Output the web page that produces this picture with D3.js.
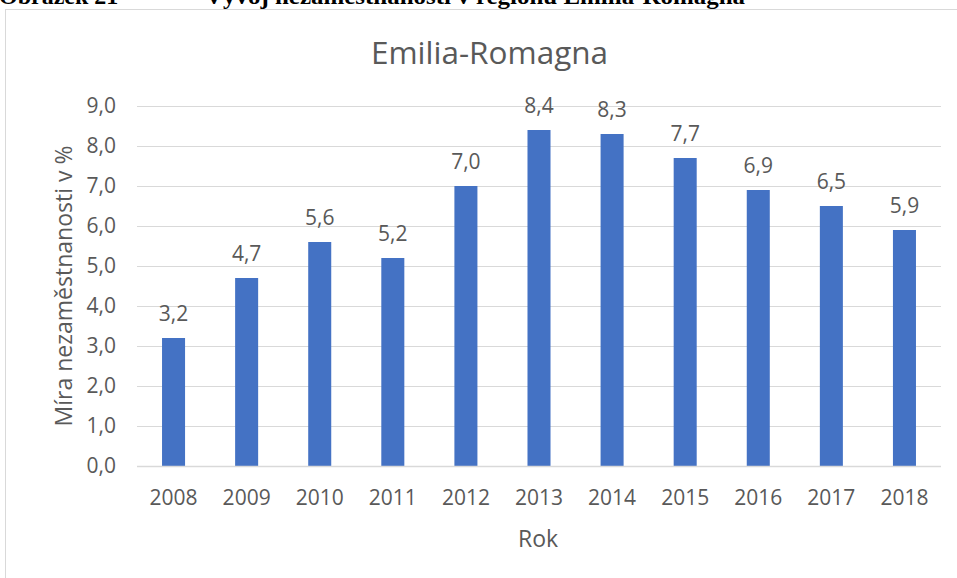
<!DOCTYPE html>
<html><head><meta charset="utf-8">
<script src="https://cdn.jsdelivr.net/npm/d3@7"></script>
<style>
html,body{margin:0;padding:0;background:#fff;}
svg{display:block;}
</style></head>
<body>
<svg id="chart" width="957" height="578"></svg>
<script>
const years = ["2008","2009","2010","2011","2012","2013","2014","2015","2016","2017","2018"];
const values = [3.2,4.7,5.6,5.2,7.0,8.4,8.3,7.7,6.9,6.5,5.9];
const yTicks = [0,1,2,3,4,5,6,7,8,9];
const chartTitle = "Emilia-Romagna";
const yTitle = "Míra nezaměstnanosti v %";
const xTitle = "Rok";
const captionNum = "Obrázek 21";
const captionText = "Vývoj nezaměstnanosti v regionu Emilia-Romagna";

(function(){
const svg = d3.select("#chart");
const font = "'Open Sans', sans-serif";
const grey = "#595959";
const fmt = v => d3.format(".1f")(v).replace(".", ",");

// caption (cut off at top, as in the source page)
const capFont = "'Liberation Serif', 'Times New Roman', serif";
svg.append("text").attr("x", -1).attr("y", 4)
  .attr("font-family", capFont).attr("font-size", 24).attr("font-weight", "bold")
  .attr("fill", "#000").text(captionNum);
svg.append("text").attr("x", 205).attr("y", 4)
  .attr("font-family", capFont).attr("font-size", 24).attr("font-weight", "bold")
  .attr("textLength", 540).attr("lengthAdjust", "spacingAndGlyphs")
  .attr("fill", "#000").text(captionText);

// chart frame
svg.append("rect").attr("x", 5.5).attr("y", 9.5).attr("width", 1000).attr("height", 600)
  .attr("fill", "#fff").attr("stroke", "#d9d9d9").attr("stroke-width", 1);

const pl = 137, pr = 941, pt = 106, pb = 466;
const x = d3.scaleBand().domain(years).range([pl, pr]).paddingInner(0.685).paddingOuter(0.3425);
const y = d3.scaleLinear().domain([0, 9]).range([pb, pt]);

// gridlines
svg.append("g").selectAll("line").data(yTicks).join("line")
  .attr("x1", pl).attr("x2", pr)
  .attr("y1", d => y(d) + 0.5).attr("y2", d => y(d) + 0.5)
  .attr("stroke", "#d9d9d9").attr("stroke-width", 1);

// y axis labels
const yAxis = d3.axisLeft(y).tickValues(yTicks).tickFormat(fmt).tickSize(0).tickPadding(0);
const gy = svg.append("g").attr("transform", `translate(116,0)`).call(yAxis);
gy.select(".domain").remove();
gy.selectAll("text").attr("font-family", font).attr("font-size", 21).attr("fill", grey);

// bars
svg.append("g").selectAll("rect").data(values).join("rect")
  .attr("x", (d, i) => x(years[i])).attr("width", x.bandwidth())
  .attr("y", d => y(d)).attr("height", d => y(0) - y(d))
  .attr("fill", "#4472c4");

// baseline
svg.append("line").attr("x1", pl).attr("x2", pr)
  .attr("y1", y(0) + 0.5).attr("y2", y(0) + 0.5).attr("stroke", "#d9d9d9").attr("stroke-width", 1.5);

// x axis labels
const xAxis = d3.axisBottom(x).tickSize(0).tickPadding(0);
const gx = svg.append("g").attr("transform", `translate(0,505)`).call(xAxis);
gx.select(".domain").remove();
gx.selectAll("text").attr("dy", 0).attr("font-family", font).attr("font-size", 21).attr("fill", grey);

// data labels
svg.append("g").selectAll("text").data(values).join("text")
  .attr("x", (d, i) => x(years[i]) + x.bandwidth() / 2)
  .attr("y", d => y(d) - 17)
  .attr("text-anchor", "middle")
  .attr("font-family", font).attr("font-size", 21).attr("fill", grey)
  .text(fmt);

// title
svg.append("text").attr("x", 489.5).attr("y", 64).attr("text-anchor", "middle")
  .attr("font-family", font).attr("font-size", 31.5).attr("fill", grey).text(chartTitle);

// axis titles
svg.append("text").attr("transform", `translate(72,286) rotate(-90)`)
  .attr("text-anchor", "middle").attr("font-family", font).attr("font-size", 23).attr("fill", grey)
  .text(yTitle);
svg.append("text").attr("x", 538).attr("y", 547).attr("text-anchor", "middle")
  .attr("font-family", font).attr("font-size", 23).attr("fill", grey).text(xTitle);
})();
</script>
</body></html>
